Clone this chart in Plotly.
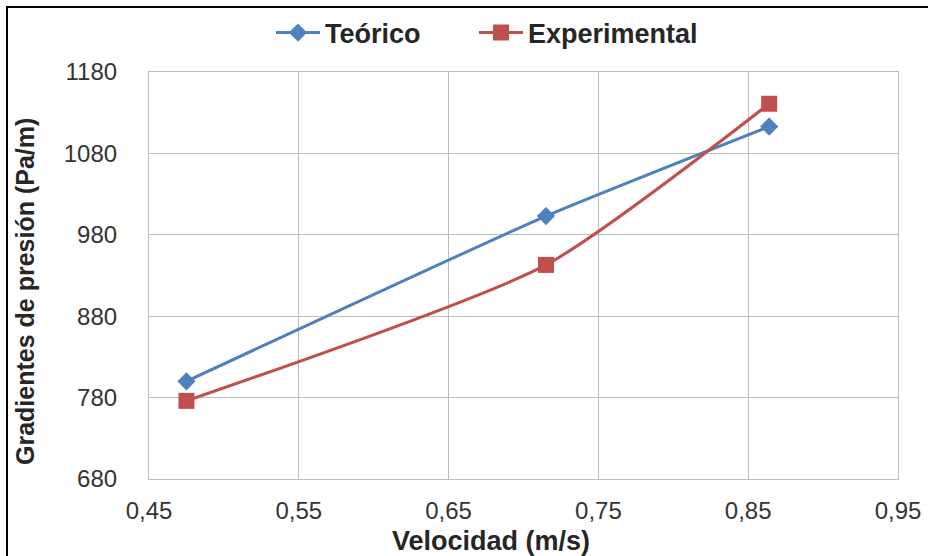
import plotly.graph_objects as go

# Velocity (m/s) and pressure gradient (Pa/m)
velocidad = [0.475, 0.715, 0.864]
teorico = [800, 1003, 1113]
experimental = [776, 943, 1141]

x_ticks = [0.45, 0.55, 0.65, 0.75, 0.85, 0.95]
x_tick_labels = ["0,45", "0,55", "0,65", "0,75", "0,85", "0,95"]
y_ticks = [680, 780, 880, 980, 1080, 1180]

W, H = 928, 556
L, R, T, B = 149, 30, 72, 77
pw, ph = W - L - R, H - T - B


def px_x(p):
    return (p - L) / pw


def px_y(p):
    return (H - B - p) / ph


fig = go.Figure()
fig.add_trace(go.Scatter(
    x=velocidad, y=teorico, name="Teórico", mode="lines+markers",
    line=dict(color="#4F81BD", width=3, shape="spline", smoothing=0.5),
    marker=dict(symbol="diamond", size=14, color="#4F81BD"),
    legend="legend",
))
fig.add_trace(go.Scatter(
    x=velocidad, y=experimental, name="Experimental", mode="lines+markers",
    line=dict(color="#C0504D", width=3, shape="spline", smoothing=0.6),
    marker=dict(symbol="square", size=16, color="#C0504D"),
    legend="legend2",
))

grid = "#BEBEBE"
font_family = "Liberation Sans, Arial, sans-serif"
title_font = dict(size=27, family=font_family, color="#262626", weight="bold")
legend_font = dict(size=27, family=font_family, color="#262626", weight="bold")


def legend_box(left_px):
    return dict(
        orientation="h", x=px_x(left_px), xanchor="left",
        y=px_y(33), yanchor="middle", font=legend_font,
        bgcolor="rgba(0,0,0,0)", itemwidth=44,
    )


fig.update_layout(
    width=W, height=H,
    margin=dict(l=L, r=R, t=T, b=B, autoexpand=False),
    paper_bgcolor="white", plot_bgcolor="white",
    font=dict(family=font_family, color="#262626"),
    showlegend=True,
    legend=legend_box(271),
    legend2=legend_box(474),
    xaxis=dict(
        range=[0.45, 0.95], tickvals=x_ticks, ticktext=x_tick_labels,
        showgrid=True, gridcolor=grid, gridwidth=1.2,
        showline=True, linecolor=grid, linewidth=1.2, mirror=True,
        zeroline=False, ticks="", ticklabelstandoff=10, automargin=False,
        tickfont=dict(size=24, color="#333333"),
    ),
    yaxis=dict(
        range=[680, 1180], tickvals=y_ticks,
        showgrid=True, gridcolor=grid, gridwidth=1.2,
        showline=True, linecolor=grid, linewidth=1.2, mirror=True,
        zeroline=False, ticks="", ticklabelstandoff=26, automargin=False,
        tickfont=dict(size=24, color="#333333"),
    ),
    annotations=[
        dict(text="Velocidad (m/s)", xref="paper", yref="paper",
             x=px_x(491), y=px_y(541), xanchor="center", yanchor="middle",
             showarrow=False, font=title_font),
        dict(text="Gradientes de presión (Pa/m)", xref="paper", yref="paper",
             x=px_x(25), y=px_y(292), xanchor="center", yanchor="middle",
             textangle=-90, showarrow=False,
             font=dict(size=25, family=font_family, color="#262626", weight="bold")),
    ],
    shapes=[dict(
        type="rect", xref="paper", yref="paper",
        x0=px_x(7), x1=px_x(W + 30),
        y0=px_y(H + 30), y1=px_y(7),
        line=dict(color="black", width=2), fillcolor="rgba(0,0,0,0)",
        layer="above",
    )],
)

fig.write_html("out.html")
